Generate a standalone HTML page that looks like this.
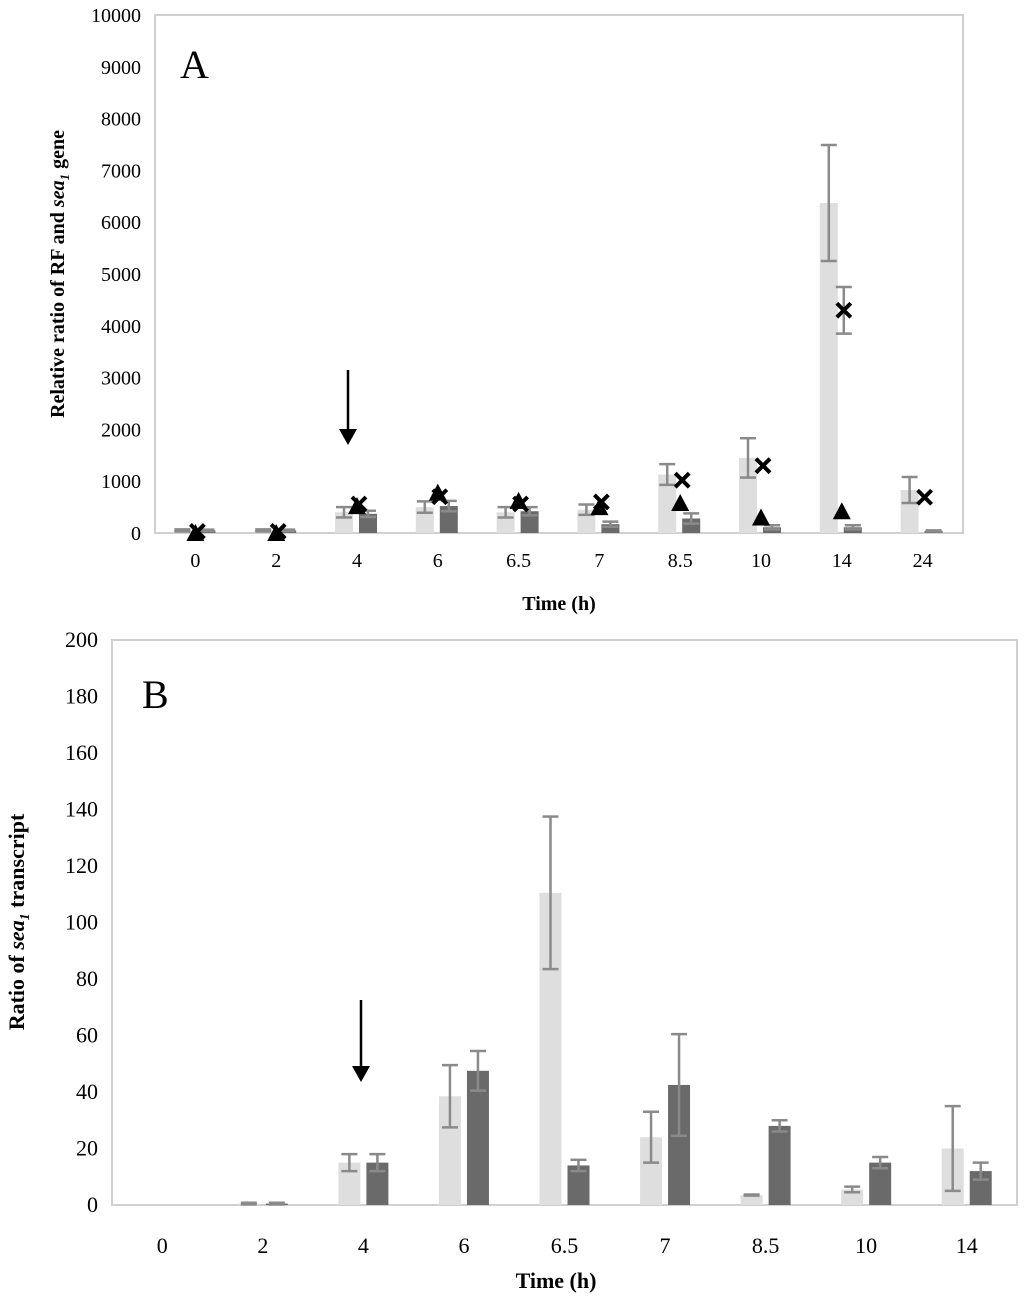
<!DOCTYPE html>
<html><head><meta charset="utf-8"><style>
body{margin:0;background:#fff}
svg{display:block;font-family:"Liberation Serif",serif}
</style></head><body>
<svg id="c" width="1024" height="1302"></svg>
<script>
const catsA=["0","2","4","6","6.5","7","8.5","10","14","24"];
const lightA=[50,50,400,500,400,450,1130,1450,6370,830];
const lightAErr=[20,20,100,110,100,100,200,380,1120,250];
const darkA=[50,50,370,520,420,170,280,110,110,40];
const darkAErr=[15,15,60,100,80,50,100,40,40,10];
const triA=[0,0,520,780,620,500,580,300,420,null];
const crossA=[30,30,560,700,560,600,1020,1300,4300,690];
const crossAErr=[0,0,0,0,0,0,0,0,450,0];
const ticksA=[0,1000,2000,3000,4000,5000,6000,7000,8000,9000,10000];
const catsB=["0","2","4","6","6.5","7","8.5","10","14"];
const lightB=[0,0.5,15,38.5,110.5,24,3.5,5.5,20];
const lightBErr=[0,0.3,3,11,27,9,0.2,1,15];
const darkB=[0,0.5,15,47.5,14,42.5,28,15,12];
const darkBErr=[0,0.3,3,7,2,18,2,2,3];
const ticksB=[0,20,40,60,80,100,120,140,160,180,200];

const svg=document.getElementById('c');
const NS='http://www.w3.org/2000/svg';
function mk(t,a,p){const e=document.createElementNS(NS,t);for(const k in a)e.setAttribute(k,a[k]);(p||svg).appendChild(e);return e;}
function txt(s,a,p){const e=mk('text',a,p);e.textContent=s;return e;}

function panel(o){
  const g=mk('g',{});
  
  
  const y=v=>o.bottom-(v/o.max)*(o.bottom-o.top);
  const bw=(o.right-o.left)/o.cats.length;
  const cx=i=>o.left+bw*(i+0.5);
  const frame=mk('rect',{x:o.left,y:o.top,width:o.right-o.left,height:o.bottom-o.top,fill:'none',stroke:'#d0d0d0','stroke-width':2},g);
  
  
  o.ticks.forEach(t=>{const e=txt(t,{x:o.left-14,y:y(t)+7,'text-anchor':'end','font-size':o.fs,fill:'#000'},g);
    });
  o.cats.forEach((c,i)=>{const e=txt(c,{x:cx(i),y:o.bottom+o.xoff,'text-anchor':'middle','font-size':o.fs},g);
    });
  const err=(x,v,e)=>{if(e<=0)return;const s={stroke:'#8a8a8a','stroke-width':2.5};
    mk('line',Object.assign({x1:x,x2:x,y1:y(v+e),y2:y(Math.max(0,v-e))},s),g);
    mk('line',Object.assign({x1:x-8,x2:x+8,y1:y(v+e),y2:y(v+e)},s),g);
    mk('line',Object.assign({x1:x-8,x2:x+8,y1:y(Math.max(0,v-e)),y2:y(Math.max(0,v-e))},s),g);};
  o.cats.forEach((c,i)=>{
    const c0=cx(i);
    const l=mk('rect',{x:c0+o.lo,y:y(o.light[i]),width:o.w,height:o.bottom-y(o.light[i]),fill:'#dedede'},g);
    
    const d=mk('rect',{x:c0+o.dox,y:y(o.dark[i]),width:o.w,height:o.bottom-y(o.dark[i]),fill:'#6a6a6a'},g);
    
    err(c0+o.lo+o.w/2,o.light[i],o.lightErr[i]);
    err(c0+o.dox+o.w/2,o.dark[i],o.darkErr[i]);
  });
  if(o.tri){o.cats.forEach((c,i)=>{
    if(o.tri[i]!=null){const yy=y(o.tri[i]);const t=mk('polygon',{points:`${cx(i)-9},${yy+8} ${cx(i)+9},${yy+8} ${cx(i)},${yy-9}`,fill:'#000'},g);
      }
    const x0=cx(i)+2,yy=y(o.cross[i]);
    err(x0,o.cross[i],o.crossErr[i]);
    const xm=mk('path',{d:`M${x0-7},${yy-7}L${x0+7},${yy+7}M${x0+7},${yy-7}L${x0-7},${yy+7}`,stroke:'#000','stroke-width':4},g);
    
  });}
  return {cx,y};
}
const A=panel({name:'panel-a',left:155,right:963,top:15,bottom:533,max:10000,cats:catsA,ticks:ticksA,light:lightA,lightErr:lightAErr,dark:darkA,darkErr:darkAErr,tri:triA,cross:crossA,crossErr:crossAErr,lo:-22,dox:2,w:18,fs:20,xoff:34});
const B=panel({name:'panel-b',left:112,right:1017,top:640,bottom:1205,max:200,cats:catsB,ticks:ticksB,light:lightB,lightErr:lightBErr,dark:darkB,darkErr:darkBErr,lo:-25,dox:3,w:22,fs:22,xoff:48});

function arrow(x,y1,y2,n){const g=mk('g',{});
  mk('line',{x1:x,x2:x,y1:y1,y2:y2-14,stroke:'#000','stroke-width':2.5},g);
  mk('polygon',{points:`${x-9},${y2-16} ${x+9},${y2-16} ${x},${y2}`,fill:'#000'},g);}
arrow(348,370,445,'arrow-a');
arrow(361,1000,1082,'arrow-b');

let e;
e=txt('A',{x:180,y:78,'font-size':40});
e=txt('B',{x:142,y:708,'font-size':40});
e=txt('Time (h)',{x:559,y:610,'text-anchor':'middle','font-size':20,'font-weight':'bold'});
e=txt('Time (h)',{x:556,y:1288,'text-anchor':'middle','font-size':22,'font-weight':'bold'});
e=mk('text',{transform:'translate(64,274) rotate(-90)','text-anchor':'middle','font-size':20,'font-weight':'bold'});
e.innerHTML='Relative ratio of RF and <tspan font-style="italic">sea</tspan><tspan font-style="italic" font-size="13" dy="5">1</tspan><tspan dy="-5"> gene</tspan>';

e=mk('text',{transform:'translate(24,922) rotate(-90)','text-anchor':'middle','font-size':22,'font-weight':'bold'});
e.innerHTML='Ratio of <tspan font-style="italic">sea</tspan><tspan font-style="italic" font-size="14" dy="5">1</tspan><tspan dy="-5"> transcript</tspan>';

</script>
</body></html>
